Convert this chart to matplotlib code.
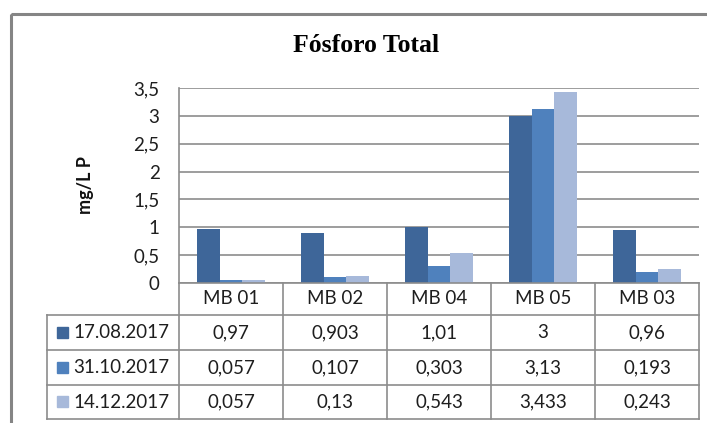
import numpy as np
import matplotlib.pyplot as plt
from matplotlib.patches import Rectangle

# data
sites = ["MB 01", "MB 02", "MB 04", "MB 05", "MB 03"]
dates = ["17.08.2017", "31.10.2017", "14.12.2017"]
v_aug = [0.97, 0.903, 1.01, 3.0, 0.96]
v_oct = [0.057, 0.107, 0.303, 3.13, 0.193]
v_dec = [0.057, 0.13, 0.543, 3.433, 0.243]
labels_aug = ["0,97", "0,903", "1,01", "3", "0,96"]
labels_oct = ["0,057", "0,107", "0,303", "3,13", "0,193"]
labels_dec = ["0,057", "0,13", "0,543", "3,433", "0,243"]
yticks = [0, 0.5, 1, 1.5, 2, 2.5, 3, 3.5]
ytick_labels = ["0", "0,5", "1", "1,5", "2", "2,5", "3", "3,5"]

series = [v_aug, v_oct, v_dec]
cell_labels = [labels_aug, labels_oct, labels_dec]
colors = ["#3e6699", "#4f81bd", "#a7b9da"]

W, H = 707, 423
fig = plt.figure(figsize=(W / 100, H / 100), dpi=100)
plt.rcParams['font.family'] = ['Lato', 'DejaVu Sans']

# pixel geometry
px_left, px_right = 179, 699
px_top, px_zero = 88, 283
row_lines = [283, 315, 350, 385, 419]
tab_left = 47
grid_col = "#8c8c8c"
txt_col = "#1e1e1e"
fs = 13.5

ax = fig.add_axes([px_left / W, 1 - px_zero / H,
                   (px_right - px_left) / W, (px_zero - px_top) / H])
x = np.arange(len(sites))
bw = 0.217
for i, vals in enumerate(series):
    ax.bar(x + (i - 1) * bw, vals, bw, color=colors[i], zorder=3)
ax.set_xlim(-0.5, len(sites) - 0.5)
ax.set_ylim(0, 3.5)
ax.set_yticks(yticks)
ax.set_yticklabels(ytick_labels, fontsize=fs, color=txt_col)
ax.set_xticks([])
ax.grid(axis="y", color=grid_col, linewidth=1.2, zorder=0)
for s in ["top", "right", "bottom"]:
    ax.spines[s].set_visible(False)
ax.spines["left"].set_color(grid_col)
ax.spines["left"].set_linewidth(1.2)
ax.tick_params(axis="y", length=0, pad=14)
ax.set_ylabel("mg/L P", fontsize=13, fontweight="bold", color="#111111")
ax.yaxis.set_label_coords((94 - px_left) / (px_right - px_left), 0.5)

# overlay in pixel coordinates for title, frame and data table
ov = fig.add_axes([0, 0, 1, 1], zorder=-1)
ov.set_xlim(0, W)
ov.set_ylim(H, 0)
ov.axis("off")
ov.add_patch(Rectangle((11, 14), 720, 430, fill=False, edgecolor="#858585", linewidth=2.2))
ov.text(366.5, 46, "Fósforo Total", ha="center", va="center", fontsize=18.5,
        fontweight="bold", family="Liberation Serif")

top = fig.add_axes([0, 0, 1, 1])
top.set_xlim(0, W)
top.set_ylim(H, 0)
top.axis("off")
col_edges = [px_left + k * (px_right - px_left) / len(sites) for k in range(len(sites) + 1)]
# horizontal table lines
top.plot([px_left, px_right], [row_lines[0]] * 2, color=grid_col, lw=1.2)
for y in row_lines[1:]:
    top.plot([tab_left, px_right], [y, y], color=grid_col, lw=1.2)
# vertical table lines
for xe in col_edges:
    top.plot([xe, xe], [row_lines[0], row_lines[-1]], color=grid_col, lw=1.2)
top.plot([tab_left, tab_left], [row_lines[1], row_lines[-1]], color=grid_col, lw=1.2)

for j, name in enumerate(sites):
    xc = (col_edges[j] + col_edges[j + 1]) / 2
    top.text(xc, (row_lines[0] + row_lines[1]) / 2, name, ha="center", va="center",
             fontsize=fs, color=txt_col)
for i, d in enumerate(dates):
    yc = (row_lines[i + 1] + row_lines[i + 2]) / 2
    top.add_patch(Rectangle((57, yc - 5.5), 11, 11, color=colors[i]))
    top.text(73, yc, d, ha="left", va="center", fontsize=fs, color=txt_col)
    for j in range(len(sites)):
        xc = (col_edges[j] + col_edges[j + 1]) / 2
        top.text(xc, yc, cell_labels[i][j], ha="center", va="center",
                 fontsize=fs, color=txt_col)

fig.savefig("out.png", dpi=100)
